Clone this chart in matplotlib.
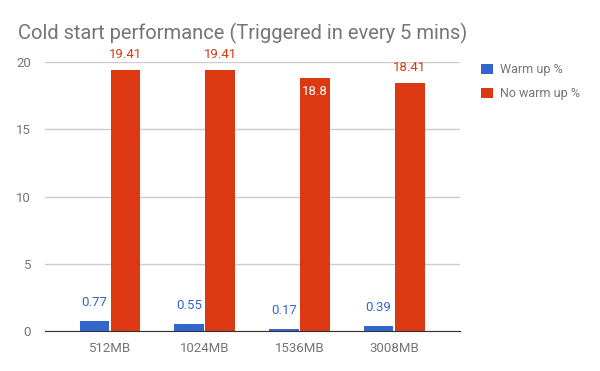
import numpy as np
import matplotlib.pyplot as plt

plt.rcParams['font.family'] = ['Roboto', 'DejaVu Sans']

memory = ['512MB', '1024MB', '1536MB', '3008MB']
warm_up = [0.77, 0.55, 0.17, 0.39]
no_warm_up = [19.41, 19.41, 18.8, 18.41]

blue = '#3366cc'
red = '#dc3912'
grey = '#757575'

fig = plt.figure(figsize=(6, 3.71), dpi=100)
ax = fig.add_axes([45/600, 1 - 331/371, 415/600, (331 - 62)/371])

x = np.arange(len(memory))
w = 0.315
b1 = ax.bar(x - 0.164, warm_up, w, color=blue, label='Warm up %', zorder=3)
b2 = ax.bar(x + 0.164, no_warm_up, w, color=red, label='No warm up %', zorder=3)

for xi, v in zip(x, warm_up):
    ax.text(xi - 0.164, v + 0.85, str(v), ha='center', va='bottom', color=blue, fontsize=9.5)
for xi, v in zip(x, no_warm_up):
    if v == 18.8:
        ax.text(xi + 0.164, v - 0.5, str(v), ha='center', va='top', color='white', fontsize=9.5)
    else:
        ax.text(xi + 0.164, v + 0.7, str(v), ha='center', va='bottom', color=red, fontsize=9.5)

ax.set_xlim(-0.686, 3.696)
ax.set_ylim(0, 20)
ax.set_yticks([0, 5, 10, 15, 20])
ax.set_xticks(x)
ax.set_xticklabels(memory)
ax.tick_params(length=0, colors=grey, labelsize=9.5)
ax.tick_params(axis='x', pad=8)
ax.tick_params(axis='y', pad=10)
ax.grid(axis='y', color='#cccccc', linewidth=1, zorder=0)
for s in ['top', 'right', 'left']:
    ax.spines[s].set_visible(False)
ax.spines['bottom'].set_color('#333333')
ax.spines['bottom'].set_zorder(4)

fig.text(18/600, 1 - 33/371, 'Cold start performance (Triggered in every 5 mins)',
         color=grey, fontsize=14.5, va='center', ha='left')

fig.legend(loc='upper left', bbox_to_anchor=(470/600, 1 - 52/371), frameon=False,
           fontsize=9, labelcolor=grey, handlelength=0.9, handleheight=0.9,
           handletextpad=0.6, labelspacing=0.9)

plt.savefig('out.png')
